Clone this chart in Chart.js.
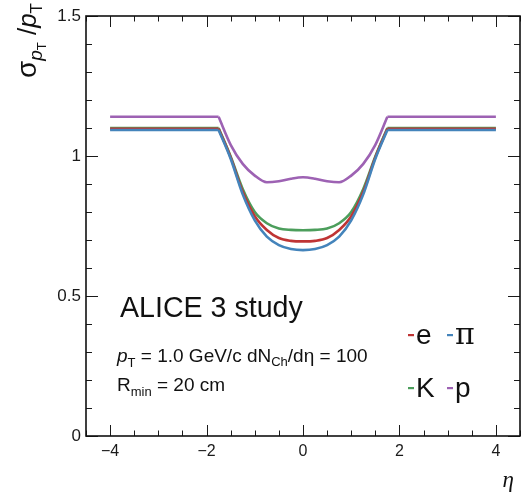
<!DOCTYPE html>
<html>
<head>
<meta charset="utf-8">
<script src="https://cdn.jsdelivr.net/npm/chart.js@4.4.0/dist/chart.umd.min.js"></script>
<style>
html,body{margin:0;padding:0;background:#fff;}
#wrap{width:522px;height:495px;position:relative;}
</style>
</head>
<body>
<div id="wrap"><canvas id="c" width="522" height="495"></canvas></div>
<script>
// ---- data ----
const etaCurve = [-1.75,-1.5,-1.25,-1.0,-0.75,-0.5,-0.25,0,0.25,0.5,0.75,1.0,1.25,1.5,1.75];
const etaFlatLeft = [-4,-1.75];
const etaFlatRight = [1.75,4];

const particles = ['e','π','K','p'];
const colors = ['#bf3434','#4484bb','#4c9e5c','#9d62b3'];

const flatE  = [1.097,1.097];
const flatPi = [1.093,1.093];
const flatK  = [1.100,1.100];
const flatP  = [1.140,1.140];

const curveE  = [1.097,0.995,0.872,0.785,0.736,0.707,0.697,0.695,0.697,0.707,0.736,0.785,0.872,0.995,1.097];
const curvePi = [1.093,0.990,0.863,0.770,0.712,0.682,0.668,0.664,0.668,0.682,0.712,0.770,0.863,0.990,1.093];
const curveK  = [1.100,0.998,0.882,0.800,0.760,0.741,0.736,0.735,0.736,0.741,0.760,0.800,0.882,0.998,1.100];
const curveP  = [1.140,1.040,0.972,0.930,0.906,0.910,0.919,0.924,0.919,0.910,0.906,0.930,0.972,1.040,1.140];

const xTickValues = [-4,-2,0,2,4];
const xTickLabels = ['\u22124','\u22122','0','2','4'];
const yTickValues = [0,0.5,1,1.5];
const yTickLabels = ['0','0.5','1','1.5'];
const xMinorStep = 0.5;
const yMinorStep = 0.1;

// ---- build datasets ----
const flats = [flatE, flatPi, flatK, flatP];
const curves = [curveE, curvePi, curveK, curveP];
const order = [1,0,2,3]; // draw pi, e, K, p
const pts = (xs, ys) => xs.map((x,i)=>({x:x, y:ys[i]}));
const datasets = [];
order.forEach(i=>{
  const base = {borderColor: colors[i], borderWidth: 2.6, pointRadius: 0, fill: false};
  datasets.push(Object.assign({}, base, {data: pts(etaFlatLeft, flats[i]), tension: 0}));
  datasets.push(Object.assign({}, base, {data: pts(etaCurve, curves[i]), cubicInterpolationMode: 'monotone'}));
  datasets.push(Object.assign({}, base, {data: pts(etaFlatRight, flats[i]), tension: 0}));
});

const FONT = '"Liberation Sans", Arial, Helvetica, sans-serif';

function drawRuns(ctx, x, y, runs){
  let cx = x;
  runs.forEach(r=>{
    const [t, size, dy, it, fam] = r;
    ctx.font = (it?'italic ':'') + size + 'px ' + (fam||FONT);
    ctx.fillText(t, cx, y + dy);
    cx += ctx.measureText(t).width;
  });
  return cx - x;
}
function measureRuns(ctx, runs){
  let w = 0;
  runs.forEach(r=>{
    const [t, size, dy, it, fam] = r;
    ctx.font = (it?'italic ':'') + size + 'px ' + (fam||FONT);
    w += ctx.measureText(t).width;
  });
  return w;
}

const decor = {
  id: 'decor',
  afterDatasetsDraw(chart){
    const ctx = chart.ctx;
    const a = chart.chartArea;
    const xs = chart.scales.x, ys = chart.scales.y;
    ctx.save();
    ctx.strokeStyle = '#1a1a1a';
    ctx.lineWidth = 1;
    ctx.beginPath();
    for (let v = -4.5; v <= 4.5001; v += xMinorStep){
      const vv = Math.round(v*100)/100;
      const px = Math.round(xs.getPixelForValue(vv)) + 0.5;
      const major = xTickValues.indexOf(vv) >= 0;
      const L = major ? 11 : 5.5;
      ctx.moveTo(px, a.bottom); ctx.lineTo(px, a.bottom - L);
      ctx.moveTo(px, a.top); ctx.lineTo(px, a.top + L);
    }
    for (let v = 0; v <= 1.5001; v += yMinorStep){
      const vv = Math.round(v*100)/100;
      const py = Math.round(ys.getPixelForValue(vv)) + 0.5;
      const major = yTickValues.indexOf(vv) >= 0;
      const L = major ? 12 : 6;
      ctx.moveTo(a.left, py); ctx.lineTo(a.left + L, py);
      ctx.moveTo(a.right, py); ctx.lineTo(a.right - L, py);
    }
    ctx.stroke();
    ctx.lineWidth = 1.6;
    ctx.strokeStyle = '#111';
    ctx.strokeRect(a.left, a.top, a.right - a.left, a.bottom - a.top);

    ctx.fillStyle = '#111';
    ctx.textBaseline = 'alphabetic';
    ctx.textAlign = 'left';

    // y-axis title (rotated), aligned to top
    const yRuns = [['σ',28,0,false],['p',19,6,true],['T',13,10,false],[' /',26,0,false],['p',26,0,true],['T',17,6,false]];
    const yw = measureRuns(ctx, yRuns);
    ctx.save();
    ctx.translate(36, 3 + yw);
    ctx.rotate(-Math.PI/2);
    drawRuns(ctx, 0, 0, yRuns);
    ctx.restore();

    // x-axis title
    ctx.font = 'italic 23px "Liberation Serif", "Times New Roman", serif';
    ctx.textAlign = 'right';
    ctx.fillText('η', 514, 487);
    ctx.textAlign = 'left';

    // annotation texts
    ctx.font = '28.6px ' + FONT;
    ctx.fillText('ALICE 3 study', 120, 317);
    drawRuns(ctx, 117, 362, [['p',19,0,true],['T',13,5,false],[' = 1.0 GeV/c dN',19,0,false],['Ch',13,4,false],['/dη = 100',19,0,false]]);
    drawRuns(ctx, 117, 391, [['R',19,0,false],['min',13,5,false],[' = 20 cm',19,0,false]]);

    // legend: colored dash + label
    const leg = [
      {i:0, x:408, y:344},
      {i:1, x:447, y:344},
      {i:2, x:408, y:397},
      {i:3, x:447, y:397}
    ];
    leg.forEach(l=>{
      ctx.fillStyle = colors[l.i];
      ctx.fillRect(l.x, l.y - 10, 6, 2.2);
      ctx.fillStyle = '#111';
      if (particles[l.i] === 'π') ctx.font = '30px "DejaVu Serif", "Liberation Serif", serif';
      else ctx.font = '28px ' + FONT;
      ctx.fillText(particles[l.i], l.x + 8, l.y);
    });
    ctx.restore();
  }
};

new Chart(document.getElementById('c'), {
  type: 'line',
  data: { datasets: datasets },
  options: {
    responsive: false,
    animation: false,
    devicePixelRatio: 1,
    layout: { padding: { top: 16, right: 2, left: 0, bottom: 0 } },
    plugins: { legend: { display: false }, tooltip: { enabled: false }, title: { display: false } },
    elements: { line: { borderCapStyle: 'butt', borderJoinStyle: 'round' } },
    scales: {
      x: {
        type: 'linear', min: -4.5, max: 4.5,
        grid: { display: false, drawTicks: false },
        border: { display: false },
        afterBuildTicks(s){ s.ticks = xTickValues.map(v=>({value:v})); },
        afterFit(s){ s.height = 59; },
        ticks: {
          padding: 6, color: '#1a1a1a', maxRotation: 0, autoSkip: false,
          font: { family: FONT, size: 16 },
          callback(v){ const k = xTickValues.indexOf(v); return k>=0 ? xTickLabels[k] : ''; }
        }
      },
      y: {
        type: 'linear', min: 0, max: 1.5,
        grid: { display: false, drawTicks: false },
        border: { display: false },
        afterBuildTicks(s){ s.ticks = yTickValues.map(v=>({value:v})); },
        afterFit(s){ s.width = 86; },
        ticks: {
          padding: 5, color: '#1a1a1a', autoSkip: false,
          font: { family: FONT, size: 17 },
          callback(v){ const k = yTickValues.indexOf(v); return k>=0 ? yTickLabels[k] : ''; }
        }
      }
    }
  },
  plugins: [decor]
});
</script>
</body>
</html>
